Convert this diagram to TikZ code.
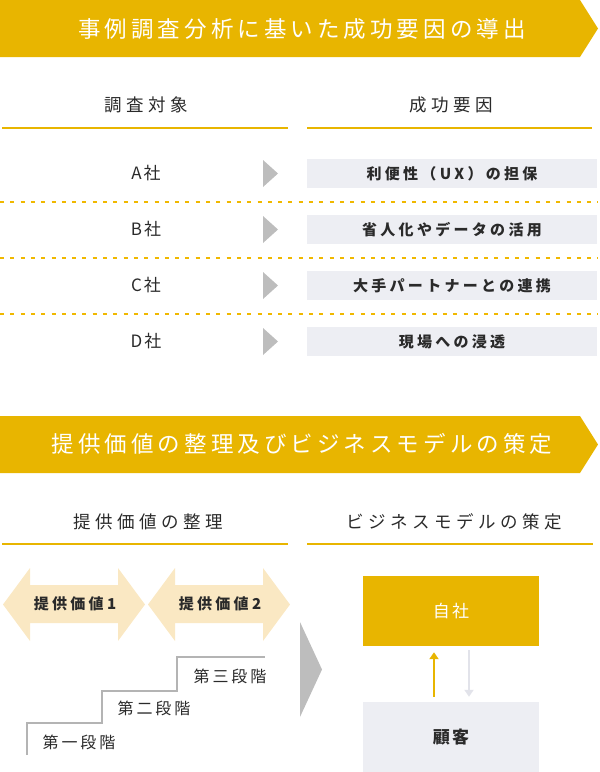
\documentclass[tikz,border=0pt]{standalone}
\usepackage{fontspec}
\usetikzlibrary{arrows.meta,calc}
\setmainfont{Noto Sans CJK JP}
\newfontfamily\ttlfont{Noto Sans CJK JP}[LetterSpace=18]
\newfontfamily\hdfont{Noto Sans CJK JP}[LetterSpace=26]
\newfontfamily\cofont{Noto Sans CJK JP}[LetterSpace=12]
\newfontfamily\bxfont{Noto Sans CJK JP}[LetterSpace=22]
\newfontfamily\stfont{Noto Sans CJK JP}[LetterSpace=18]
\definecolor{gold}{HTML}{E8B500}
\definecolor{dotgold}{HTML}{F0B800}
\definecolor{palegold}{HTML}{FAE8C3}
\definecolor{boxgray}{HTML}{EDEEF3}
\definecolor{trigray}{HTML}{BDBDBD}
\definecolor{stairgray}{HTML}{B4B4B4}
\definecolor{downgray}{HTML}{E2E3EA}
\definecolor{txt}{HTML}{2A2A2A}
\begin{document}
\begin{tikzpicture}[x=1pt,y=-1pt,
  bannertext/.style={text=white,font=\ttlfont\fontsize{22.5}{26}\selectfont,inner sep=0},
  headtext/.style={text=txt,font=\hdfont\fontsize{17.5}{20}\selectfont,inner sep=0},
  comptext/.style={text=txt,font=\cofont\fontsize{17}{20}\selectfont,inner sep=0},
  factorbox/.style={fill=boxgray,minimum width=290,minimum height=29,inner sep=0,text=txt,font=\bxfont\bfseries\fontsize{15}{18}\selectfont},
  arrowtext/.style={text=txt,font=\bxfont\bfseries\fontsize{15}{18}\selectfont,inner sep=0},
  stairtext/.style={text=txt,font=\stfont\fontsize{16}{18}\selectfont,inner sep=0},
  underline/.style={draw=gold,line width=2},
  dotline/.style={draw=dotgold,line width=2,dash pattern=on 4 off 6.3},
]
\useasboundingbox (0,0) rectangle (600,772);

% banner 1
\fill[gold] (0,0) -- (580,0) -- (598,28.5) -- (580,57) -- (0,57) -- cycle;
\node[bannertext] (t1) at (302,29) {事例調査分析に基いた成功要因の導出};

% headers
\node[headtext] (h1) at (146,105) {調査対象};
\node[headtext] (h2) at (451,105) {成功要因};
\draw[underline] (2,128) -- (288,128);
\draw[underline] (307,128) -- (592,128);

% rows
\foreach \y/\c/\f in {173.5/A/利便性（UX）の担保, 229.5/B/省人化やデータの活用, 285.5/C/大手パートナーとの連携, 341.5/D/現場への浸透}{
  \node[comptext] (c\c) at (146,\y) {\c 社};
  \fill[trigray] (263,\y-13.5) -- (278,\y) -- (263,\y+13.5) -- cycle;
  \node[factorbox] (f\c) at (452,\y) {\f};
}
\foreach \y in {202,258,314}{
  \draw[dotline] (0,\y) -- (598,\y);
}

% banner 2
\fill[gold] (0,416) -- (580,416) -- (598,444.5) -- (580,473) -- (0,473) -- cycle;
\node[bannertext] (t2) at (302,444) {提供価値の整理及びビジネスモデルの策定};

% sub headers
\node[headtext] (s1) at (148,521.5) {提供価値の整理};
\node[headtext] (s2) at (454,521.5) {ビジネスモデルの策定};
\draw[underline] (2,544) -- (288,544);
\draw[underline] (307,544) -- (593,544);

% double arrows
\foreach \dx/\n/\lbl in {0/1/提供価値1, 145/2/提供価値2}{
  \fill[palegold] (3+\dx,604.5) -- (30+\dx,568) -- (30+\dx,585) -- (118+\dx,585) -- (118+\dx,568)
    -- (145+\dx,604.5) -- (118+\dx,641) -- (118+\dx,623) -- (30+\dx,623) -- (30+\dx,641) -- cycle;
  \node[arrowtext] (v\n) at (75+\dx,604) {\lbl};
}

% stairs
\draw[stairgray,line width=1.5] (27,755) -- (27,723) -- (102,723) -- (102,691) -- (177,691) -- (177,657) -- (265,657);
\node[stairtext] (st1) at (79,742) {第一段階};
\node[stairtext] (st2) at (154,708) {第二段階};
\node[stairtext] (st3) at (230,676) {第三段階};

% big triangle
\fill[trigray] (300,622) -- (322,669.5) -- (300,717) -- cycle;

% business model
\node[fill=gold,minimum width=176,minimum height=70,inner sep=0,text=white,font=\cofont\fontsize{17}{20}\selectfont] (jisha) at (451,611) {自社};
\node[fill=boxgray,minimum width=176,minimum height=70,inner sep=0,text=txt,font=\cofont\bfseries\fontsize{17}{20}\selectfont] (kyaku) at (451,737) {顧客};
\draw[gold,line width=2,-{Triangle[length=7,width=9]},shorten <=5pt,shorten >=6pt]
  ([xshift=-17pt]kyaku.north) -- ([xshift=-17pt]jisha.south);
\draw[downgray,line width=2,-{Triangle[length=7,width=9]},shorten <=4pt,shorten >=5pt]
  ([xshift=18pt]jisha.south) -- ([xshift=18pt]kyaku.north);
\end{tikzpicture}
\end{document}
